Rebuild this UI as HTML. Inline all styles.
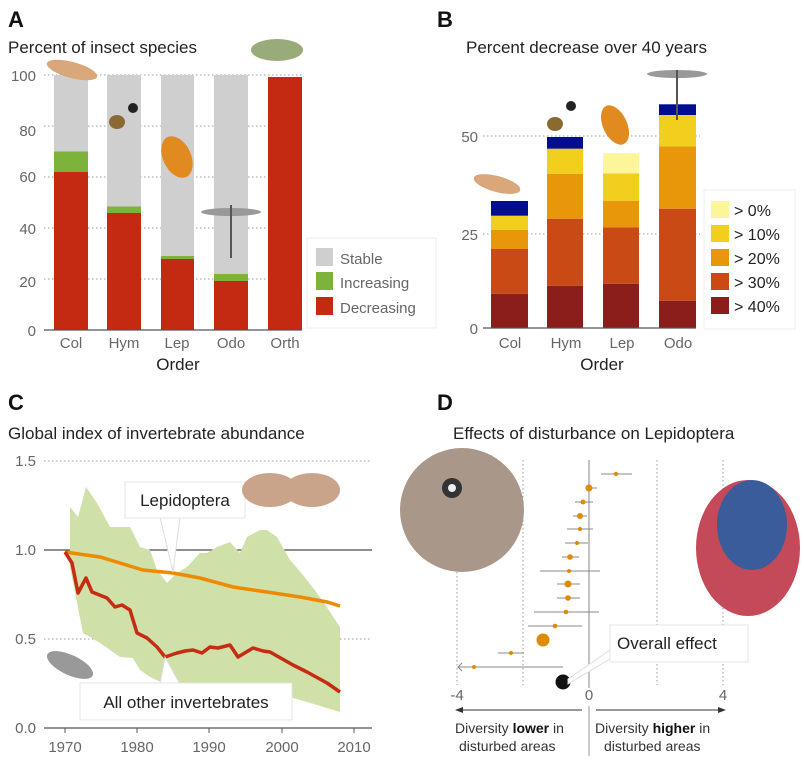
<!DOCTYPE html>
<html><head><meta charset="utf-8"><style>
body{margin:0;background:#fff}
svg{display:block;font-family:"Liberation Sans",sans-serif}
.t{font-size:15px;fill:#666}
.h{font-size:17px;fill:#222}
.L{font-size:22px;font-weight:bold;fill:#111}
.g{stroke:#999;stroke-width:1;stroke-dasharray:1.5 2.5}
</style></head><body>
<svg width="804" height="765" viewBox="0 0 804 765">
<!-- Panel A -->
<text class="L" x="8" y="27">A</text>
<text class="h" x="8" y="53">Percent of insect species</text>
<g class="g"><line x1="44" x2="302" y1="75" y2="75"/><line x1="44" x2="302" y1="126" y2="126"/><line x1="44" x2="302" y1="177" y2="177"/><line x1="44" x2="302" y1="228" y2="228"/><line x1="44" x2="302" y1="279" y2="279"/></g>
<g class="t" text-anchor="end"><text x="36" y="81">100</text><text x="36" y="136">80</text><text x="36" y="182">60</text><text x="36" y="234">40</text><text x="36" y="287">20</text><text x="36" y="336">0</text></g>
<rect x="54" y="75" width="34" height="255" fill="#cfcfcf"/><rect x="54" y="151.5" width="34" height="20.5" fill="#7db33a"/><rect x="54" y="172" width="34" height="158" fill="#c42a12"/>
<rect x="107" y="75" width="34" height="255" fill="#cfcfcf"/><rect x="107" y="206.5" width="34" height="6.5" fill="#7db33a"/><rect x="107" y="213" width="34" height="117" fill="#c42a12"/>
<rect x="161" y="75" width="33" height="255" fill="#cfcfcf"/><rect x="161" y="256" width="33" height="3" fill="#7db33a"/><rect x="161" y="259" width="33" height="71" fill="#c42a12"/>
<rect x="214" y="75" width="34" height="255" fill="#cfcfcf"/><rect x="214" y="274" width="34" height="7" fill="#7db33a"/><rect x="214" y="281" width="34" height="49" fill="#c42a12"/>
<rect x="268" y="77" width="34" height="253" fill="#c42a12"/>
<line x1="44" x2="302" y1="330" y2="330" stroke="#555" stroke-width="1.2"/>
<g class="t" text-anchor="middle"><text x="71" y="348">Col</text><text x="124" y="348">Hym</text><text x="177" y="348">Lep</text><text x="231" y="348">Odo</text><text x="285" y="348">Orth</text></g>
<text x="178" y="370" text-anchor="middle" class="h">Order</text>
<rect x="307" y="238" width="129" height="90" fill="#fff" stroke="#eee"/>
<rect x="316" y="248" width="17" height="18" fill="#cfcfcf"/><rect x="316" y="272" width="17" height="18" fill="#7db33a"/><rect x="316" y="297" width="17" height="18" fill="#c42a12"/>
<g class="t"><text x="340" y="264">Stable</text><text x="340" y="288">Increasing</text><text x="340" y="313">Decreasing</text></g>
<!-- insects A (rough) -->
<ellipse cx="72" cy="70" rx="26" ry="8" fill="#d9a77a" transform="rotate(15 72 70)"/>
<ellipse cx="117" cy="122" rx="8" ry="7" fill="#8a6a30"/><circle cx="133" cy="108" r="5" fill="#222"/>
<ellipse cx="177" cy="157" rx="14" ry="22" fill="#e08a20" transform="rotate(-25 177 157)"/>
<ellipse cx="231" cy="212" rx="30" ry="4" fill="#999"/><line x1="231" y1="205" x2="231" y2="258" stroke="#555" stroke-width="2"/>
<ellipse cx="277" cy="50" rx="26" ry="11" fill="#9aab7a"/>
<!-- Panel B -->
<text class="L" x="437" y="27">B</text>
<text class="h" x="466" y="53">Percent decrease over 40 years</text>
<g class="g"><line x1="483" x2="700" y1="136" y2="136"/><line x1="483" x2="700" y1="234" y2="234"/></g>
<g class="t" text-anchor="end"><text x="478" y="142">50</text><text x="478" y="240">25</text><text x="478" y="334">0</text></g>
<g>
<rect x="491" y="293.7" width="37" height="34.3" fill="#8b1e1a"/><rect x="491" y="249" width="37" height="44.7" fill="#c94a14"/><rect x="491" y="230" width="37" height="19" fill="#e8960a"/><rect x="491" y="215.7" width="37" height="14.3" fill="#f2cf1d"/><rect x="491" y="201" width="37" height="14.7" fill="#000e8e"/>
<rect x="547" y="285.7" width="36" height="42.3" fill="#8b1e1a"/><rect x="547" y="218.7" width="36" height="67" fill="#c94a14"/><rect x="547" y="173.7" width="36" height="45" fill="#e8960a"/><rect x="547" y="148.7" width="36" height="25" fill="#f2cf1d"/><rect x="547" y="137" width="36" height="11.7" fill="#000e8e"/>
<rect x="603" y="283.7" width="36" height="44.3" fill="#8b1e1a"/><rect x="603" y="227.3" width="36" height="56.4" fill="#c94a14"/><rect x="603" y="200.7" width="36" height="26.6" fill="#e8960a"/><rect x="603" y="173.3" width="36" height="27.4" fill="#f2cf1d"/><rect x="603" y="153.3" width="36" height="20" fill="#fdf59a"/>
<rect x="659" y="300.7" width="37" height="27.3" fill="#8b1e1a"/><rect x="659" y="208.7" width="37" height="92" fill="#c94a14"/><rect x="659" y="146.3" width="37" height="62.4" fill="#e8960a"/><rect x="659" y="115" width="37" height="31.3" fill="#f2cf1d"/><rect x="659" y="104.3" width="37" height="10.7" fill="#000e8e"/>
</g>
<line x1="483" x2="696" y1="328" y2="328" stroke="#555" stroke-width="1.2"/>
<g class="t" text-anchor="middle"><text x="510" y="348">Col</text><text x="566" y="348">Hym</text><text x="622" y="348">Lep</text><text x="678" y="348">Odo</text></g>
<text x="602" y="370" text-anchor="middle" class="h">Order</text>
<rect x="704" y="190" width="91" height="139" fill="#fff" stroke="#eee"/>
<rect x="711" y="201" width="18" height="17" fill="#fdf59a"/><rect x="711" y="225" width="18" height="17" fill="#f2cf1d"/><rect x="711" y="249" width="18" height="17" fill="#e8960a"/><rect x="711" y="273" width="18" height="17" fill="#c94a14"/><rect x="711" y="297" width="18" height="17" fill="#8b1e1a"/>
<g class="h" style="font-size:16px"><text x="734" y="216">&gt; 0%</text><text x="734" y="240">&gt; 10%</text><text x="734" y="264">&gt; 20%</text><text x="734" y="288">&gt; 30%</text><text x="734" y="312">&gt; 40%</text></g>
<ellipse cx="497" cy="184" rx="24" ry="8" fill="#d9a77a" transform="rotate(15 497 184)"/>
<ellipse cx="555" cy="124" rx="8" ry="7" fill="#8a6a30"/><circle cx="571" cy="106" r="5" fill="#222"/>
<ellipse cx="615" cy="125" rx="12" ry="21" fill="#e08a20" transform="rotate(-25 615 125)"/>
<ellipse cx="677" cy="74" rx="30" ry="4" fill="#999"/><line x1="677" y1="70" x2="677" y2="120" stroke="#555" stroke-width="2"/>
<!-- Panel C -->
<text class="L" x="8" y="410">C</text>
<text class="h" x="8" y="439">Global index of invertebrate abundance</text>
<g class="g"><line x1="44" x2="372" y1="461" y2="461"/><line x1="44" x2="372" y1="639" y2="639"/></g>
<line x1="44" x2="372" y1="550" y2="550" stroke="#222" stroke-width="1"/>
<g class="t" text-anchor="end"><text x="36" y="466">1.5</text><text x="36" y="555">1.0</text><text x="36" y="644">0.5</text><text x="36" y="733">0.0</text></g>
<polygon fill="#cfe0a8" points="70,507 78,517 86,487 97,503 110,527 130,527 140,547 150,550 157,570 167,583 177,573 187,567 200,553 207,553 217,547 230,542 240,553 247,537 260,530 267,530 277,537 290,560 303,575 317,593 330,612 340,627 340,712 317,705 290,697 267,692 233,690 200,688 167,685 150,677 140,670 133,658 120,657 100,643 83,633 70,567"/>
<polyline fill="none" stroke="#ed8a00" stroke-width="3.5" points="65,552 100,557 143,570 173,573 200,578 233,587 267,592 300,597 327,602 340,606"/>
<polyline fill="none" stroke="#c62c12" stroke-width="3.5" stroke-linejoin="round" points="65,552 72,563 78,593 86,578 92,592 107,598 115,607 122,605 130,610 137,633 147,638 157,647 165,657 177,653 185,651 193,650 202,653 210,647 218,648 230,645 238,657 253,648 263,651 270,652 293,665 307,672 327,683 340,692"/>
<line x1="44" x2="372" y1="728" y2="728" stroke="#555" stroke-width="1.2"/>
<g stroke="#555"><line x1="65" x2="65" y1="728" y2="733"/><line x1="137" x2="137" y1="728" y2="733"/><line x1="209" x2="209" y1="728" y2="733"/><line x1="282" x2="282" y1="728" y2="733"/><line x1="354" x2="354" y1="728" y2="733"/></g>
<g class="t" text-anchor="middle"><text x="65" y="752">1970</text><text x="137" y="752">1980</text><text x="209" y="752">1990</text><text x="282" y="752">2000</text><text x="354" y="752">2010</text></g>
<polygon points="160,517 180,517 173,572" fill="#fff" stroke="#ddd"/>
<rect x="125" y="482" width="120" height="36" fill="#fff" stroke="#e4e4e4"/>
<text x="185" y="506" text-anchor="middle" class="h">Lepidoptera</text>
<polygon points="165,657 160,684 180,684" fill="#fff" stroke="#ddd"/>
<rect x="80" y="683" width="212" height="37" fill="#fff" stroke="#e4e4e4"/>
<text x="186" y="708" text-anchor="middle" class="h">All other invertebrates</text>
<ellipse cx="270" cy="490" rx="28" ry="17" fill="#c9a48a"/><ellipse cx="312" cy="490" rx="28" ry="17" fill="#c9a48a"/>
<ellipse cx="70" cy="665" rx="25" ry="10" fill="#999" transform="rotate(25 70 665)"/>
<!-- Panel D -->
<text class="L" x="437" y="410">D</text>
<text class="h" x="453" y="439">Effects of disturbance on Lepidoptera</text>
<g class="g"><line x1="457" x2="457" y1="460" y2="685"/><line x1="523" x2="523" y1="460" y2="685"/><line x1="657" x2="657" y1="460" y2="685"/><line x1="723" x2="723" y1="460" y2="685"/></g>
<ellipse cx="462" cy="510" rx="62" ry="62" fill="#a9978a"/>
<circle cx="452" cy="488" r="10" fill="#333"/><circle cx="452" cy="488" r="4" fill="#eee"/>
<ellipse cx="748" cy="548" rx="52" ry="68" fill="#c44a5a"/><ellipse cx="752" cy="525" rx="35" ry="45" fill="#3a5c9a"/>
<line x1="589" x2="589" y1="460" y2="688" stroke="#999" stroke-width="1.2"/>
<g stroke="#888" stroke-width="1">
<line x1="601" x2="632" y1="474" y2="474"/><line x1="587" x2="597" y1="488" y2="488"/><line x1="575" x2="593" y1="502" y2="502"/><line x1="573" x2="587" y1="516" y2="516"/><line x1="567" x2="593" y1="529" y2="529"/><line x1="565" x2="588" y1="543" y2="543"/><line x1="562" x2="579" y1="557" y2="557"/><line x1="540" x2="600" y1="571" y2="571"/><line x1="557" x2="580" y1="584" y2="584"/><line x1="557" x2="580" y1="598" y2="598"/><line x1="534" x2="599" y1="612" y2="612"/><line x1="528" x2="582" y1="626" y2="626"/><line x1="498" x2="524" y1="653" y2="653"/><line x1="458" x2="563" y1="667" y2="667"/><polyline points="462,663 458,667 462,671" fill="none"/>
</g>
<g fill="#e08a00">
<circle cx="616" cy="474" r="2.2"/><circle cx="589" cy="488" r="3.5"/><circle cx="583" cy="502" r="2.5"/><circle cx="580" cy="516" r="3"/><circle cx="580" cy="529" r="2"/><circle cx="577" cy="543" r="2"/><circle cx="570" cy="557" r="2.8"/><circle cx="569" cy="571" r="2"/><circle cx="568" cy="584" r="3.5"/><circle cx="568" cy="598" r="2.8"/><circle cx="566" cy="612" r="2.3"/><circle cx="555" cy="626" r="2.3"/><circle cx="543" cy="640" r="6.5"/><circle cx="511" cy="653" r="2"/><circle cx="474" cy="667" r="2"/>
</g>
<circle cx="563" cy="682" r="7.5" fill="#111"/>
<polygon points="568,679 610,650 625,650 568,684" fill="#fff" stroke="#ddd"/>
<rect x="610" y="625" width="138" height="37" fill="#fff" stroke="#e4e4e4"/>
<text x="617" y="649" class="h">Overall effect</text>
<g class="t" text-anchor="middle"><text x="457" y="700">-4</text><text x="589" y="700">0</text><text x="723" y="700">4</text></g>
<g stroke="#333" stroke-width="1"><line x1="460" x2="582" y1="710" y2="710"/><line x1="596" x2="720" y1="710" y2="710"/><line x1="589" x2="589" y1="706" y2="756" stroke="#999"/></g>
<polygon points="455,710 463,707 463,713" fill="#333"/><polygon points="726,710 718,707 718,713" fill="#333"/>
<g style="font-size:14px;fill:#333"><text x="455" y="733">Diversity <tspan font-weight="bold" fill="#111">lower</tspan> in</text><text x="459" y="751">disturbed areas</text>
<text x="595" y="733">Diversity <tspan font-weight="bold" fill="#111">higher</tspan> in</text><text x="604" y="751">disturbed areas</text></g>
</svg>
</body></html>
